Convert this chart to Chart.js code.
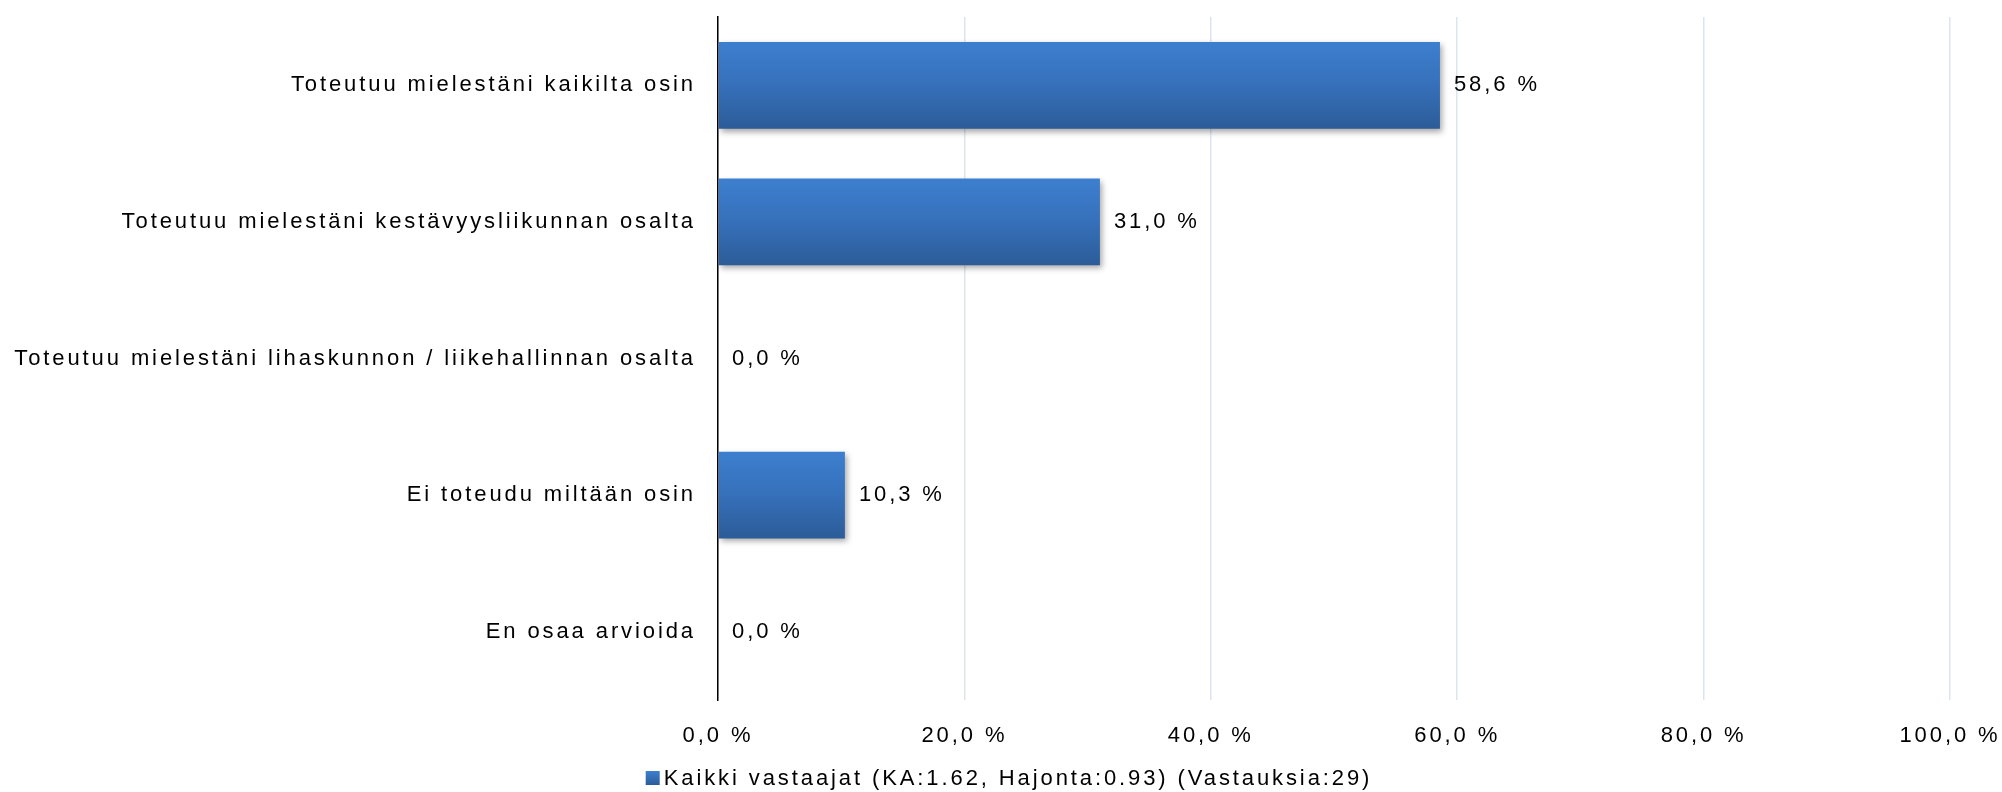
<!DOCTYPE html>
<html>
<head>
<meta charset="utf-8">
<script src="https://cdn.jsdelivr.net/npm/chart.js@4/dist/chart.umd.min.js"></script>
<style>
  html, body { margin: 0; padding: 0; background: #fff; }
  canvas { display: block; }
</style>
</head>
<body>
<canvas id="grafico" width="2002" height="792"></canvas>
<script>
// ===============================
// DATOS
// ===============================
const kategoriat = [
  "Toteutuu mielestäni kaikilta osin",
  "Toteutuu mielestäni kestävyysliikunnan osalta",
  "Toteutuu mielestäni lihaskunnon / liikehallinnan osalta",
  "Ei toteudu miltään osin",
  "En osaa arvioida"
];
const arvot = [58.6, 31.0, 0.0, 10.3, 0.0];
const sarjanNimi = "Kaikki vastaajat (KA:1.62, Hajonta:0.93) (Vastauksia:29)";
const akseliMax = 100;
const akseliVali = 20;

const fontti = "'Liberation Sans', Arial, sans-serif";
const kirjainvali = "2.9px";
const paksuus = 0.635;

function pilkku(v) {
  return v.toFixed(1).replace(".", ",") + " %";
}

// ===============================
// PLUGINIT
// ===============================
// kirjainväli kankaalle (Chart.js ei tue sitä itse)
const kirjainvaliPlugin = {
  id: "kirjainvali",
  beforeUpdate(chart) { chart.ctx.letterSpacing = kirjainvali; },
  beforeLayout(chart) { chart.ctx.letterSpacing = kirjainvali; },
  beforeDraw(chart) { chart.ctx.letterSpacing = kirjainvali; }
};

// liukuväri pylvääseen, lasketaan y-akselin paikasta
function liukuvari(c) {
  const y = c.chart.scales.y;
  if (!y || c.dataIndex === undefined) return "#3670ba";
  const keski = y.getPixelForValue(c.dataIndex);
  const puoli = (y.height / kategoriat.length) * paksuus / 2;
  if (!isFinite(keski) || !isFinite(puoli) || puoli <= 0) return "#3670ba";
  const g = c.chart.ctx.createLinearGradient(0, keski - puoli, 0, keski + puoli);
  g.addColorStop(0, "#3d7fcf");
  g.addColorStop(0.5, "#3670ba");
  g.addColorStop(1, "#2c5c98");
  return g;
}

// varjo + arvot
const pylvasTyyli = {
  id: "pylvasTyyli",
  beforeDatasetsDraw(chart) {
    const ctx = chart.ctx;
    ctx.save();
    ctx.shadowColor = "rgba(0,0,0,0.35)";
    ctx.shadowBlur = 6;
    ctx.shadowOffsetX = 2;
    ctx.shadowOffsetY = 3;
  },
  afterDatasetsDraw(chart) {
    const ctx = chart.ctx;
    ctx.restore();
    ctx.save();
    ctx.letterSpacing = kirjainvali;
    ctx.font = "22px " + fontti;
    ctx.fillStyle = "#000";
    ctx.textAlign = "left";
    ctx.textBaseline = "middle";
    chart.getDatasetMeta(0).data.forEach((el, i) => {
      ctx.fillText(pilkku(arvot[i]), el.x + 14, el.y);
    });
    ctx.restore();
  }
};

// oma selite: pieni neliö lähellä tekstiä
const selitePlugin = {
  id: "selite",
  afterDraw(chart) {
    const ctx = chart.ctx;
    const teksti = chart.data.datasets[0].label;
    ctx.save();
    ctx.letterSpacing = kirjainvali;
    ctx.font = "22px " + fontti;
    const leveys = 14 + 4 + ctx.measureText(teksti).width;
    const x0 = chart.width / 2 + 8 - leveys / 2;
    const yk = 778;
    const g = ctx.createLinearGradient(0, yk - 7, 0, yk + 7);
    g.addColorStop(0, "#3d7fcf");
    g.addColorStop(1, "#2c5c98");
    ctx.fillStyle = g;
    ctx.fillRect(x0, yk - 7, 14, 14);
    ctx.fillStyle = "#000";
    ctx.textAlign = "left";
    ctx.textBaseline = "middle";
    ctx.fillText(teksti, x0 + 18, yk + 1);
    ctx.restore();
  }
};

// ===============================
// KAAVIO
// ===============================
const kaavio = new Chart(document.getElementById("grafico"), {
  type: "bar",
  data: {
    labels: kategoriat,
    datasets: [{
      label: sarjanNimi,
      data: arvot,
      backgroundColor: liukuvari,
      borderWidth: 0,
      barPercentage: paksuus,
      categoryPercentage: 1
    }]
  },
  options: {
    indexAxis: "y",
    responsive: false,
    animation: false,
    layout: { padding: { top: 17, right: 52, left: 0, bottom: 38 } },
    scales: {
      x: {
        min: 0,
        max: akseliMax,
        ticks: {
          stepSize: akseliVali,
          color: "#000",
          padding: 23,
          font: { family: fontti, size: 22 },
          callback: v => pilkku(v)
        },
        grid: { color: "#dce5ee", lineWidth: 1.5, drawTicks: false },
        border: { display: false },
        afterFit: s => { s.height = 54; s.paddingLeft = 0; s.paddingRight = 0; }
      },
      y: {
        ticks: {
          color: "#000",
          padding: 22,
          font: { family: fontti, size: 22 }
        },
        grid: { display: false, drawTicks: false },
        border: { display: true, color: "#000", width: 1.5 },
        afterFit: s => { s.width = 718; s.paddingTop = 0; s.paddingBottom = 0; }
      }
    },
    plugins: {
      legend: { display: false },
      tooltip: { enabled: false }
    }
  },
  plugins: [kirjainvaliPlugin, pylvasTyyli, selitePlugin]
});
</script>
</body>
</html>
